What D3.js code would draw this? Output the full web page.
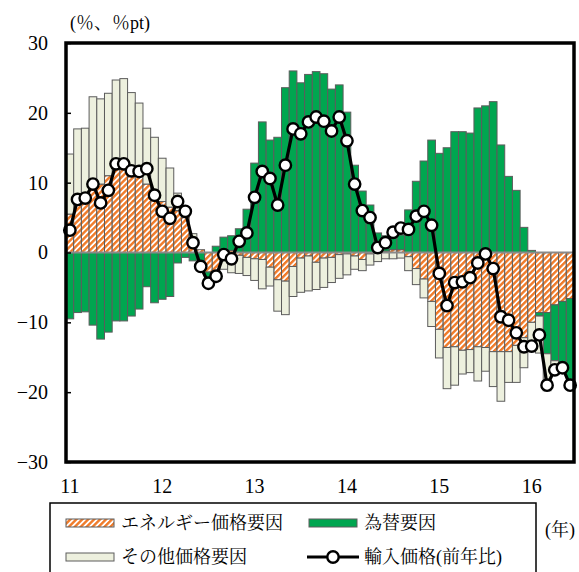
<!DOCTYPE html>
<html><head><meta charset="utf-8">
<script src="https://cdn.jsdelivr.net/npm/d3@7"></script>
<style>body{margin:0;background:#fff}</style>
</head><body>
<svg id="c" width="579" height="572"></svg>
<script>
// ---- data ----
const categories = d3.timeMonths(new Date(2011,0,1), new Date(2016,6,1)).map(d3.timeFormat("%Y-%m"));
const yearLabels = ["11","12","13","14","15","16"];
const yearTickMonths = ["2011-01","2012-01","2013-01","2014-01","2015-01","2016-01"];
const yTicks = [-30,-20,-10,0,10,20,30];

const energy = [
 5.5, 6.8, 7.5, 9.3, 9.8, 11.0, 12.0, 12.2, 11.3, 11.0, 9.8, 8.8,
 7.3, 6.5, 6.0, 5.0, 1.5, 0.4, -2.8, -2.9, -1.0, 0.3, -0.4, -0.7,
 -0.9, -1.0, -2.1, -3.9, -4.1, -2.0, -0.8, -0.5, -1.4, -0.8, -0.7, -0.3,
 -0.2, -0.5, -1.0, -0.2, -0.1, 0.2, 0.4, 0.4, -0.6, -2.3, -3.8, -7.0,
 -11.0, -13.6, -13.5, -14.0, -13.9, -13.5, -13.6, -14.2, -14.2, -14.2, -13.3, -12.2,
 -10.0, -8.6, -8.6, -7.5, -7.0, -6.6];
const exchange = [
 -9.5, -8.6, -8.5, -10.4, -12.4, -11.4, -9.8, -9.8, -9.1, -8.1, -4.9, -7.2,
 -6.7, -6.3, -1.5, -0.7, -1.2, -2.0, -1.0, 0.9, 2.2, 2.1, 3.4, 6.2,
 12.8, 18.7, 16.1, 16.5, 23.6, 26.0, 24.3, 25.5, 25.9, 25.6, 23.4, 24.0,
 20.1, 12.5, 8.8, 6.8, 2.8, 2.2, 1.7, 2.1, 6.1, 10.2, 13.1, 16.1,
 14.2, 15.0, 17.3, 17.3, 17.1, 20.7, 21.0, 21.6, 15.4, 10.9, 8.9, 3.6,
 0.3, -0.5, -5.9, -8.0, -8.8, -12.0];
const other = [
 8.6, 10.9, 10.3, 13.0, 12.2, 11.8, 12.7, 12.7, 11.6, 10.4, 8.0, 7.7,
 6.2, 5.6, 2.5, 0.5, 1.2, -0.4, -0.6, -1.2, -1.4, -2.9, -2.6, -2.6,
 -3.1, -4.2, -2.7, -4.5, -4.8, -4.3, -4.9, -5.0, -3.9, -4.2, -3.6, -3.4,
 -3.0, -1.9, -1.6, -1.6, -1.2, -0.9, -0.9, -0.8, -2.0, -2.3, -2.7, -3.6,
 -4.1, -5.9, -5.5, -3.4, -3.3, -4.9, -3.4, -5.0, -7.1, -4.4, -5.3, -4.3,
 -3.2, -5.3, -5.3, -1.0, -0.7, -1.0];
const importPrice = [
 3.2, 7.6, 7.8, 9.8, 7.1, 8.9, 12.7, 12.7, 11.7, 11.6, 12.0, 8.2,
 5.9, 4.9, 7.3, 5.9, 1.4, -2.0, -4.4, -3.4, -0.3, -0.9, 1.6, 2.8,
 7.9, 11.6, 10.6, 6.8, 12.5, 17.7, 17.0, 18.7, 19.4, 18.8, 17.4, 19.4,
 16.0, 9.8, 6.0, 5.0, 0.7, 1.4, 2.9, 3.5, 3.3, 5.2, 5.9, 3.9,
 -3.0, -7.6, -4.3, -4.2, -3.6, -1.5, -0.2, -2.3, -9.2, -9.7, -11.5, -13.5,
 -13.4, -11.8, -19.0, -16.8, -16.5, -19.0];

const seriesKeys = ["energy","exchange","other"];
const seriesNames = {energy:"エネルギー価格要因", exchange:"為替要因", other:"その他価格要因"};
const lineName = "輸入価格(前年比)";

// ---- layout ----
const L = 66, R = 574, T = 43, B = 462;
const FONT = "'Liberation Serif','Noto Serif CJK JP','Noto Sans CJK JP',serif";
const svg = d3.select("#c");
const defs = svg.append("defs");
const pat = defs.append("pattern").attr("id","hatch").attr("patternUnits","userSpaceOnUse")
  .attr("width",4.2).attr("height",4.2).attr("patternTransform","rotate(45)");
pat.append("rect").attr("width",4.2).attr("height",4.2).attr("fill","#fff");
pat.append("rect").attr("width",2.4).attr("height",4.2).attr("fill","#F07A28");

const fills = {energy:"url(#hatch)", exchange:"#00A650", other:"#EDF0DE"};

const table = categories.map((c,i)=>({cat:c, energy:energy[i], exchange:exchange[i], other:other[i], price:importPrice[i]}));
const stacked = d3.stack().keys(seriesKeys).offset(d3.stackOffsetDiverging)(table);

const x = d3.scaleBand().domain(categories).range([L,R]).padding(0);
const y = d3.scaleLinear().domain([-30,30]).range([B,T]);

// bars
svg.append("g").selectAll("g").data(stacked).join("g")
  .attr("fill", s=>fills[s.key])
  .selectAll("rect").data(s=>s).join("rect")
  .attr("x", d=>x(d.data.cat))
  .attr("width", x.bandwidth())
  .attr("y", d=>y(Math.max(d[0],d[1])))
  .attr("height", d=>Math.abs(y(d[0])-y(d[1])))
  .attr("stroke", "#5c5c5c").attr("stroke-width", 1);

// zero line
svg.append("line").attr("x1",L).attr("x2",R).attr("y1",y(0)).attr("y2",y(0))
  .attr("stroke","#8a8a8a").attr("stroke-width",2);

// line
const line = d3.line().x(d=>x(d.cat)+x.bandwidth()/2).y(d=>y(d.price));
svg.append("path").datum(table).attr("d",line).attr("fill","none")
  .attr("stroke","#000").attr("stroke-width",3.2).attr("stroke-linejoin","round");
svg.append("g").selectAll("circle").data(table).join("circle")
  .attr("cx", d=>x(d.cat)+x.bandwidth()/2).attr("cy", d=>y(d.price)).attr("r",5.7)
  .attr("fill","#fff").attr("stroke","#000").attr("stroke-width",2.4);

// axes
const yAxis = svg.append("g").attr("transform",`translate(${L},0)`)
  .call(d3.axisLeft(y).tickValues(yTicks).tickSize(-5).tickPadding(18)
    .tickFormat(d=> d<0 ? "−"+Math.abs(d) : String(d)));
yAxis.select(".domain").remove();
yAxis.selectAll("line").attr("stroke","#000").attr("stroke-width",1.5);
yAxis.selectAll("text").attr("font-family",FONT).attr("font-size",20).attr("fill","#000");

const xAxis = svg.append("g").attr("transform",`translate(0,${B})`)
  .call(d3.axisBottom(x).tickValues(yearTickMonths).tickSize(0).tickPadding(17)
    .tickFormat((d,i)=>yearLabels[i]));
xAxis.select(".domain").remove();
xAxis.selectAll("text").attr("font-family",FONT).attr("font-size",20).attr("fill","#000");

// frame
svg.append("rect").attr("x",L).attr("y",T).attr("width",R-L).attr("height",B-T)
  .attr("fill","none").attr("stroke","#000").attr("stroke-width",3.5);

// unit labels
svg.append("text").attr("x",70).attr("y",29).attr("font-family",FONT).attr("font-size",18)
  .text("(％、％pt)");
svg.append("text").attr("x",545).attr("y",536).attr("font-family",FONT).attr("font-size",18)
  .text("(年)");

// legend
const lg = svg.append("g");
lg.append("rect").attr("x",50).attr("y",503).attr("width",486).attr("height",90)
  .attr("fill","#fff").attr("stroke","#000").attr("stroke-width",1.5);
const items = [
  {key:"energy", x:66, y:523},
  {key:"exchange", x:309, y:523},
  {key:"other", x:66, y:557}
];
items.forEach(it=>{
  lg.append("rect").attr("x",it.x).attr("y",it.y-4).attr("width",48).attr("height",8)
    .attr("fill",fills[it.key]).attr("stroke","#5c5c5c").attr("stroke-width",1);
  lg.append("text").attr("x",it.x+55).attr("y",it.y).attr("dy","0.35em")
    .attr("font-family",FONT).attr("font-size",18).text(seriesNames[it.key]);
});
lg.append("line").attr("x1",307).attr("x2",359).attr("y1",557).attr("y2",557)
  .attr("stroke","#000").attr("stroke-width",3.2);
lg.append("circle").attr("cx",333).attr("cy",557).attr("r",5.7)
  .attr("fill","#fff").attr("stroke","#000").attr("stroke-width",2.4);
lg.append("text").attr("x",364).attr("y",557).attr("dy","0.35em")
  .attr("font-family",FONT).attr("font-size",18).text(lineName);
</script>
</body></html>
